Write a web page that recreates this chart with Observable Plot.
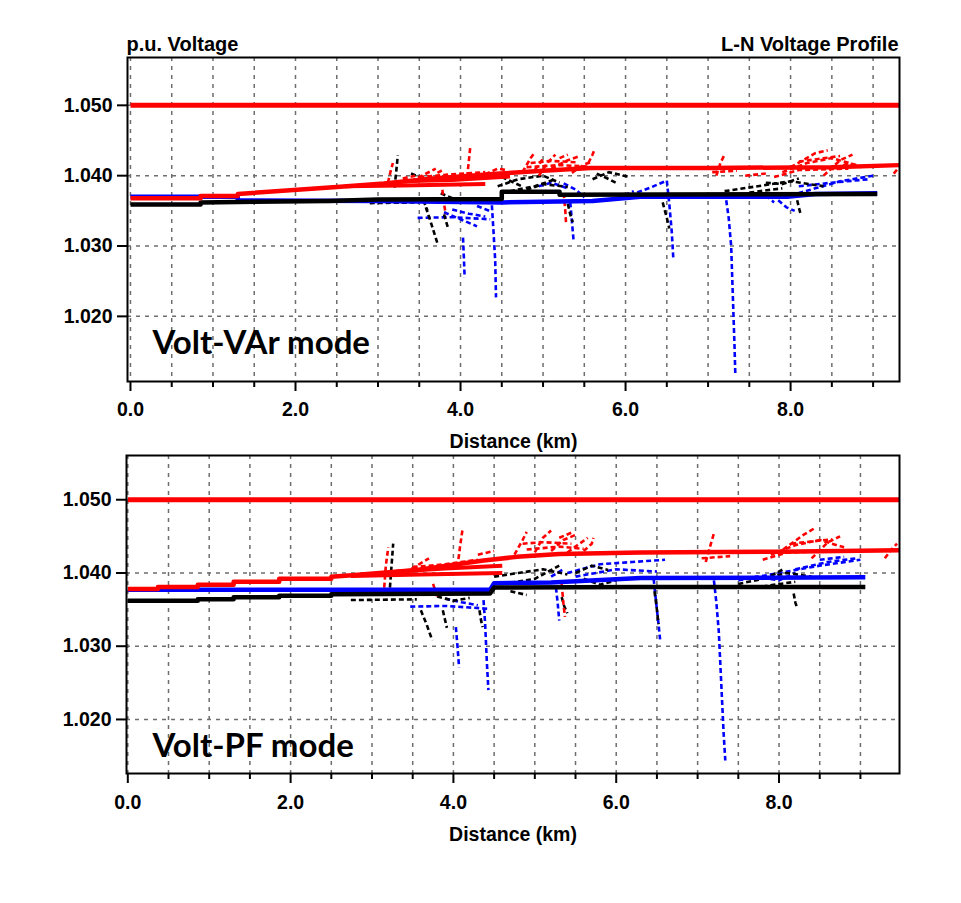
<!DOCTYPE html>
<html><head><meta charset="utf-8">
<script src="https://cdn.jsdelivr.net/npm/d3@7"></script>
<script src="https://cdn.jsdelivr.net/npm/@observablehq/plot@0.6"></script>
<style>
body{margin:0;background:#fff;}
#c{width:961px;}
#c svg{display:block;}
</style></head><body><div id="c"></div>
<script>
// ---------- axes / ticks ----------
const limitPU = 1.050;
const yTicks = [1.020, 1.030, 1.040, 1.050];
const xLabelTicks = [0, 2, 4, 6, 8];
const xMinorTicks = [0.5, 1, 1.5, 2.5, 3, 3.5, 4.5, 5, 5.5, 6.5, 7, 7.5, 8.5, 9];
const xGrid = [0, 0.5, 1, 1.5, 2, 2.5, 3, 3.5, 4, 4.5, 5, 5.5, 6, 6.5, 7, 7.5, 8, 8.5, 9];
const titleLeft = "p.u. Voltage";
const titleRight = "L-N Voltage Profile";
const xTitle = "Distance (km)";
const modeLabels = ["Volt-VAr mode", "Volt-PF mode"];

// ---------- Volt-VAr (top) ----------
const vvRedMain = [[0,1.0368],[0.85,1.0368],[0.85,1.0371],[1.3,1.0371],[1.3,1.0374],[2.5,1.0384],[3.07,1.0389],[3.67,1.0396],[4.48,1.0403],[5.0,1.0407],[5.58,1.0411],[7.0,1.0411],[8.5,1.0412],[9.32,1.0415]];
const vvBlueMain = [[0,1.0370],[1.3,1.0370],[1.3,1.0365],[3.0,1.0364],[4.5,1.0362],[5.6,1.0364],[6.18,1.0370],[7.96,1.0370],[8.3,1.0374],[9.05,1.0375]];
const vvBlackMain = [[0,1.0359],[0.85,1.0359],[0.85,1.0362],[2.4,1.0364],[3.0,1.0366],[4.5,1.0367],[4.5,1.0377],[5.2,1.0377],[5.2,1.0373],[9.05,1.0374]];
const vvRedBands = [
  [[2.6,1.0385],[3.3,1.0386],[4.3,1.0388]],
  [[3.3,1.0392],[3.9,1.0394],[4.6,1.0399]]
];
const vvRedLaterals = [
  [[4.08,1.0398],[4.1,1.0420],[4.12,1.0443]],
  [[3.12,1.0390],[3.15,1.0405],[3.18,1.0418]],
  [[4.75,1.0405],[4.85,1.0425],[4.9,1.0433]],
  [[4.95,1.0400],[5.05,1.0418],[5.15,1.0430]],
  [[5.1,1.0410],[5.3,1.0422],[5.45,1.0428]],
  [[5.35,1.0404],[5.5,1.0416],[5.6,1.0420]],
  [[4.8,1.0412],[5.2,1.0415],[5.55,1.0413]],
  [[4.85,1.0418],[5.1,1.0421],[5.4,1.0419]],
  [[5.55,1.0418],[5.6,1.0430],[5.62,1.0436]],
  [[5.2,1.0425],[5.3,1.0430]],
  [[4.9,1.0408],[5.0,1.0424]],
  [[5.25,1.0375],[5.27,1.0350],[5.28,1.0330]],
  [[3.78,1.0380],[3.8,1.0360],[3.82,1.0346]],
  [[3.72,1.0404],[3.8,1.0409]],
  [[3.3,1.0396],[3.45,1.0400]],
  [[4.3,1.0402],[4.45,1.0410],[4.55,1.0408]],
  [[7.1,1.0400],[7.15,1.0418],[7.2,1.0430]],
  [[7.05,1.0405],[7.35,1.0407]],
  [[7.9,1.0405],[8.2,1.0418],[8.5,1.0425],[8.8,1.0415]],
  [[8.0,1.0412],[8.3,1.0432],[8.45,1.0436]],
  [[8.4,1.0400],[8.6,1.0422],[8.75,1.0430]],
  [[7.8,1.0398],[8.1,1.0408],[8.7,1.0410]],
  [[8.1,1.0420],[8.35,1.0424],[8.6,1.0428]],
  [[8.55,1.0410],[8.7,1.0418],[8.85,1.0412]],
  [[9.25,1.0403],[9.3,1.0410]],
  [[3.5,1.0398],[3.9,1.0402],[4.3,1.0405]],
  [[3.4,1.0392],[3.7,1.0410]],
  [[7.45,1.0400],[7.7,1.0403]]
];
const vvBlueLaterals = [
  [[4.38,1.0358],[4.4,1.0320],[4.42,1.0280],[4.43,1.0227]],
  [[4.03,1.0312],[4.04,1.0285],[4.05,1.0255]],
  [[3.48,1.0340],[3.9,1.0341],[4.36,1.0338]],
  [[3.8,1.0348],[4.0,1.0338],[4.2,1.0328]],
  [[3.9,1.0352],[4.1,1.0346],[4.3,1.0342]],
  [[4.2,1.0357],[4.35,1.0350]],
  [[5.33,1.0362],[5.35,1.0335],[5.37,1.0308]],
  [[5.25,1.0389],[5.4,1.0380],[5.5,1.0369]],
  [[6.5,1.0393],[6.53,1.0360],[6.56,1.0320],[6.58,1.0280]],
  [[7.22,1.0365],[7.25,1.0340],[7.28,1.0300],[7.3,1.0230],[7.32,1.0160],[7.33,1.0119]],
  [[6.05,1.0372],[6.3,1.0383],[6.5,1.0393]],
  [[5.9,1.0368],[6.1,1.0378]],
  [[8.0,1.0372],[8.3,1.0382],[8.6,1.0392],[9.0,1.0400]],
  [[8.1,1.0385],[8.5,1.0390],[8.95,1.0395]],
  [[7.85,1.0365],[7.95,1.0355],[8.05,1.0350]],
  [[7.7,1.0372],[7.8,1.0362]],
  [[4.95,1.0385],[5.1,1.0390],[5.3,1.0382]]
];
const vvBlackLaterals = [
  [[3.2,1.0383],[3.22,1.0405],[3.24,1.0429]],
  [[3.58,1.0355],[3.65,1.0330],[3.72,1.0304]],
  [[3.8,1.0345],[3.85,1.0325]],
  [[3.55,1.0365],[3.6,1.0350]],
  [[3.4,1.0403],[3.5,1.0398]],
  [[3.76,1.0375],[3.9,1.0368],[4.0,1.0361]],
  [[4.45,1.0385],[4.7,1.0395],[5.0,1.0400],[5.2,1.0390]],
  [[4.6,1.0378],[4.9,1.0385],[5.15,1.0395]],
  [[4.5,1.0398],[4.65,1.0390],[4.76,1.0384]],
  [[4.8,1.0380],[5.0,1.0388],[5.3,1.0384]],
  [[5.3,1.0360],[5.33,1.0345],[5.36,1.0334]],
  [[5.6,1.0395],[5.8,1.0405],[6.05,1.0398]],
  [[5.65,1.0403],[5.8,1.0395],[5.9,1.0389]],
  [[7.2,1.0378],[7.6,1.0385],[8.0,1.0392],[8.4,1.0385]],
  [[7.5,1.0376],[7.9,1.0382]],
  [[7.7,1.0390],[7.9,1.0388],[8.1,1.0396]],
  [[8.08,1.0365],[8.1,1.0355],[8.12,1.0346]],
  [[2.9,1.0361],[3.5,1.0362]],
  [[6.45,1.0362],[6.5,1.0340],[6.53,1.0325]]
];

// ---------- Volt-PF (bottom) ----------
const pfRedMain = [[0,1.0378],[0.37,1.0378],[0.37,1.0381],[0.86,1.0381],[0.86,1.0384],[1.3,1.0384],[1.3,1.0388],[1.86,1.0388],[1.86,1.0392],[2.5,1.0392],[2.5,1.0395],[2.75,1.0397],[3.55,1.0404],[4.37,1.0417],[4.78,1.0422],[5.3,1.0426],[6.3,1.0428],[8.0,1.0429],[9.48,1.0431]];
const pfBlueMain = [[0,1.0377],[2.0,1.0377],[3.0,1.0377],[4.45,1.0377],[4.5,1.0386],[5.2,1.0387],[6.3,1.0393],[9.06,1.0394]];
const pfBlackMain = [[0,1.0362],[0.86,1.0362],[0.86,1.0364],[1.3,1.0364],[1.3,1.0367],[1.86,1.0367],[1.86,1.0369],[2.5,1.0369],[2.5,1.0371],[4.45,1.0372],[4.5,1.0380],[6.3,1.0381],[9.06,1.0381]];
const pfRedBands = [
  [[2.74,1.0396],[3.6,1.0398],[4.6,1.0400]],
  [[3.3,1.0402],[3.9,1.0406],[4.6,1.0410]]
];
const pfRedLaterals = [
  [[4.05,1.0408],[4.08,1.0435],[4.11,1.0458]],
  [[3.15,1.0380],[3.17,1.0410],[3.2,1.0435]],
  [[4.75,1.0425],[4.85,1.0445],[4.9,1.0456]],
  [[5.0,1.0428],[5.1,1.0448],[5.2,1.0458]],
  [[5.2,1.0430],[5.35,1.0445],[5.5,1.0452]],
  [[5.4,1.0428],[5.55,1.0440],[5.65,1.0448]],
  [[4.9,1.0432],[5.3,1.0436],[5.6,1.0433]],
  [[4.85,1.0440],[5.1,1.0442],[5.45,1.0440]],
  [[5.3,1.0448],[5.45,1.0455]],
  [[5.6,1.0430],[5.7,1.0440],[5.72,1.0448]],
  [[5.33,1.0385],[5.35,1.0360],[5.37,1.0340]],
  [[7.1,1.0415],[7.15,1.0435],[7.2,1.0454]],
  [[7.05,1.0420],[7.4,1.0423]],
  [[7.9,1.0425],[8.2,1.0438],[8.5,1.0445],[8.8,1.0435]],
  [[8.05,1.0432],[8.3,1.0452],[8.45,1.0462]],
  [[8.4,1.0420],[8.6,1.0442],[8.75,1.0450]],
  [[7.8,1.0418],[8.1,1.0428],[8.7,1.0430]],
  [[8.15,1.0440],[8.4,1.0443],[8.65,1.0446]],
  [[9.3,1.0420],[9.38,1.0432],[9.45,1.0440]],
  [[3.5,1.0408],[3.9,1.0412],[4.3,1.0418]],
  [[3.4,1.0400],[3.7,1.0420]],
  [[4.3,1.0425],[4.5,1.0430]],
  [[3.75,1.0385],[3.8,1.0368]]
];
const pfBlueLaterals = [
  [[4.37,1.0363],[4.39,1.0330],[4.41,1.0280],[4.43,1.0240]],
  [[4.03,1.0326],[4.05,1.0300],[4.07,1.0271]],
  [[3.47,1.0354],[3.9,1.0355],[4.45,1.0351]],
  [[3.9,1.0365],[4.1,1.0360],[4.3,1.0356]],
  [[5.26,1.0380],[5.28,1.0360],[5.3,1.0335]],
  [[6.46,1.0392],[6.49,1.0360],[6.52,1.0330],[6.54,1.0308]],
  [[7.2,1.0390],[7.23,1.0360],[7.26,1.0320],[7.29,1.0250],[7.32,1.0180],[7.34,1.0144]],
  [[5.4,1.0400],[5.8,1.0412],[6.2,1.0415],[6.6,1.0418]],
  [[5.5,1.0395],[6.0,1.0405],[6.5,1.0402]],
  [[5.2,1.0395],[5.35,1.0405]],
  [[7.5,1.0390],[8.0,1.0400],[8.5,1.0410],[9.0,1.0418]],
  [[8.2,1.0405],[8.6,1.0415],[8.95,1.0420]],
  [[7.7,1.0395],[8.0,1.0390],[8.2,1.0400]],
  [[8.5,1.0418],[8.8,1.0422]]
];
const pfBlackLaterals = [
  [[3.22,1.0380],[3.24,1.0410],[3.26,1.0440]],
  [[3.6,1.0349],[3.67,1.0330],[3.74,1.0308]],
  [[3.87,1.0349],[3.92,1.0325]],
  [[4.32,1.0349],[4.34,1.0335],[4.36,1.0326]],
  [[3.8,1.0368],[4.0,1.0362],[4.2,1.0366]],
  [[4.5,1.0395],[4.8,1.0400],[5.1,1.0405],[5.4,1.0398]],
  [[4.6,1.0385],[5.0,1.0392],[5.3,1.0410]],
  [[4.7,1.0375],[4.9,1.0370]],
  [[5.5,1.0400],[5.7,1.0410],[5.9,1.0404]],
  [[5.6,1.0392],[5.8,1.0384],[6.0,1.0390]],
  [[5.33,1.0367],[5.36,1.0355],[5.4,1.0345]],
  [[6.47,1.0375],[6.5,1.0350],[6.52,1.0330]],
  [[7.5,1.0385],[7.8,1.0392],[8.1,1.0400],[8.4,1.0395]],
  [[7.7,1.0380],[8.2,1.0388]],
  [[7.9,1.0396],[8.05,1.0405]],
  [[8.18,1.0372],[8.2,1.0360],[8.22,1.0353]],
  [[2.74,1.0363],[3.55,1.0364]]
];

// ---------- helpers ----------
const RED = "#ff0000", BLUE = "#0000ff", BLACK = "#000000";
const pts = a => a.map(([x, y]) => ({x, y}));
const segRows = segs => segs.flatMap((s, i) => s.map(([x, y]) => ({x, y, id: i})));
const AXISFONT = "'Liberation Sans', Arial, sans-serif";

function panel(cfg) {
  const [x0, x1] = cfg.xDomain;
  const limitRows = [{x: 0, y: limitPU}, {x: x1, y: limitPU}];
  const dashed = (segs, color) => Plot.line(segRows(segs), {x: "x", y: "y", z: "id", stroke: color, strokeWidth: 2.6, strokeDasharray: "5,3", strokeLinecap: "butt"});
  const solid = (a, color, w) => Plot.line(pts(a), {x: "x", y: "y", stroke: color, strokeWidth: w, strokeLinecap: "butt"});
  const marks = [
    Plot.gridX({ticks: xGrid, stroke: "#6e6e6e", strokeOpacity: 1, strokeWidth: 1.5, strokeDasharray: "4,5"}),
    Plot.gridY({ticks: yTicks, stroke: "#6e6e6e", strokeOpacity: 1, strokeWidth: 1.5, strokeDasharray: "4,5"}),
    dashed(cfg.blueLat, BLUE),
    dashed(cfg.blackLat, BLACK),
    dashed(cfg.redLat, RED),
    Plot.line(segRows(cfg.redBands), {x: "x", y: "y", z: "id", stroke: RED, strokeWidth: 4, strokeLinecap: "butt"}),
    solid(cfg.blueMain, BLUE, 4.5),
    solid(cfg.blackMain, BLACK, 4.5),
    solid(cfg.redMain, RED, 4.5),
    Plot.line(limitRows, {x: "x", y: "y", stroke: RED, strokeWidth: 5, strokeLinecap: "butt"}),
    Plot.frame({stroke: BLACK, strokeWidth: 2}),
    Plot.axisY({ticks: yTicks, label: null, tickFormat: d3.format(".3f"), tickSize: 10, tickPadding: 5, strokeWidth: 2, fontSize: 19.5, fontWeight: "bold", fontFamily: AXISFONT}),
    Plot.axisX({ticks: xLabelTicks, label: null, tickFormat: d3.format(".1f"), tickSize: 10, tickPadding: cfg.tickPad, strokeWidth: 2, fontSize: 19.5, fontWeight: "bold", fontFamily: AXISFONT}),
    Plot.axisX({ticks: xMinorTicks, label: null, tickFormat: () => "", tickSize: 6, strokeWidth: 2}),
    Plot.text([xTitle], {frameAnchor: "bottom", dy: cfg.xTitleDy, lineAnchor: "bottom", fontSize: 19.5, fontWeight: "bold", fontFamily: AXISFONT, fill: BLACK}),
    Plot.text([cfg.mode], {frameAnchor: "bottom-left", dx: cfg.modeDx, dy: cfg.modeDy, lineAnchor: "bottom", textAnchor: "start", fontSize: 33, fontWeight: "bold", fontFamily: "Lato, 'Open Sans', sans-serif", fill: BLACK})
  ];
  if (cfg.titles) {
    marks.push(Plot.text([titleLeft], {frameAnchor: "top-left", dx: -1, dy: -7, lineAnchor: "bottom", textAnchor: "start", fontSize: 20, fontWeight: "bold", fontFamily: AXISFONT, fill: BLACK}));
    marks.push(Plot.text([titleRight], {frameAnchor: "top-right", dx: -1, dy: -7, lineAnchor: "bottom", textAnchor: "end", fontSize: 20, fontWeight: "bold", fontFamily: AXISFONT, fill: BLACK}));
  }
  return Plot.plot({
    width: 961, height: cfg.height,
    marginTop: cfg.mt, marginBottom: cfg.mb, marginLeft: cfg.ml, marginRight: cfg.mr,
    x: {domain: cfg.xDomain, label: null},
    y: {domain: cfg.yDomain, label: null},
    style: {background: "white", color: "black", fontFamily: AXISFONT, overflow: "visible"},
    marks
  });
}

const topPanel = panel({
  height: 450, mt: 57, mb: 69, ml: 127, mr: 62,
  xDomain: [-0.036, 9.32], yDomain: [1.01074, 1.0568],
  redMain: vvRedMain, blueMain: vvBlueMain, blackMain: vvBlackMain,
  redBands: vvRedBands, redLat: vvRedLaterals, blueLat: vvBlueLaterals, blackLat: vvBlackLaterals,
  mode: modeLabels[0], modeDx: 25, modeDy: -28, tickPad: 11, xTitleDy: 66, titles: true
});
const bottomPanel = panel({
  height: 453, mt: 5, mb: 130, ml: 126, mr: 62,
  xDomain: [-0.016, 9.48], yDomain: [1.01262, 1.05604],
  redMain: pfRedMain, blueMain: pfBlueMain, blackMain: pfBlackMain,
  redBands: pfRedBands, redLat: pfRedLaterals, blueLat: pfBlueLaterals, blackLat: pfBlackLaterals,
  mode: modeLabels[1], modeDx: 26, modeDy: -17, tickPad: 12, xTitleDy: 67, titles: false
});
document.getElementById("c").append(topPanel, bottomPanel);
</script></body></html>
